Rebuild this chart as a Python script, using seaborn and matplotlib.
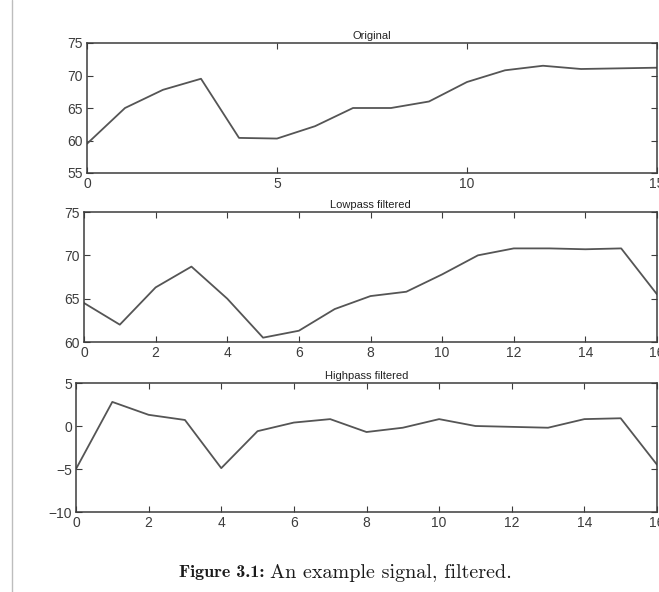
import numpy as np
import pandas as pd
import matplotlib.pyplot as plt
from matplotlib.lines import Line2D
import seaborn as sns

# --- data ---
t_orig = list(range(16))
original = [59.5, 65.0, 67.8, 69.5, 60.4, 60.3, 62.2, 65.0, 65.0, 66.0,
            69.0, 70.8, 71.5, 71.0, 71.1, 71.2]

t_filt = list(range(17))
lowpass = [64.5, 62.0, 66.3, 68.7, 65.0, 60.5, 61.3, 63.8, 65.3, 65.8,
           67.8, 70.0, 70.8, 70.8, 70.7, 70.8, 65.5]
highpass = [-5.0, 2.8, 1.3, 0.7, -4.9, -0.6, 0.4, 0.8, -0.7, -0.2,
            0.8, 0.0, -0.1, -0.2, 0.8, 0.9, -4.5]

titles = ["Original", "Lowpass filtered", "Highpass filtered"]
caption_bold = "Figure 3.1:"
caption_text = "An example signal, filtered."

sns.set_style("ticks")
plt.rcParams["font.family"] = ["Liberation Sans", "DejaVu Sans"]
ink = "#3c3c3c"

fig = plt.figure(figsize=(6.59, 5.92), dpi=100)

# axes boxes (left, bottom, width, height) in figure fractions
boxes = [
    (87 / 659, 1 - 173 / 592, 570 / 659, 130 / 592),
    (84 / 659, 1 - 342 / 592, 573 / 659, 130 / 592),
    (76 / 659, 1 - 512 / 592, 581 / 659, 129 / 592),
]
panels = [
    (t_orig, original, (0, 15), (55, 75), [0, 5, 10, 15], [55, 60, 65, 70, 75]),
    (t_filt, lowpass, (0, 16), (60, 75), list(range(0, 17, 2)), [60, 65, 70, 75]),
    (t_filt, highpass, (0, 16), (-10, 5), list(range(0, 17, 2)), [-10, -5, 0, 5]),
]

for box, (x, y, xl, yl, xt, yt), title in zip(boxes, panels, titles):
    ax = fig.add_axes(box)
    df = pd.DataFrame({"t": x, "v": y})
    sns.lineplot(data=df, x="t", y="v", ax=ax, color="#555555", linewidth=1.3)
    ax.set_xlim(*xl)
    ax.set_ylim(*yl)
    ax.set_xticks(xt)
    ax.set_yticks(yt)
    ax.set_xlabel("")
    ax.set_ylabel("")
    ax.tick_params(direction="in", top=True, right=True, length=4,
                   labelsize=10, colors=ink, pad=3)
    ax.set_yticklabels([str(v).replace("-", "\u2212") for v in yt])
    for s in ax.spines.values():
        s.set_visible(True)
        s.set_color(ink)
        s.set_linewidth(1.1)
    ax.set_title(title, fontsize=8, color="#222222", pad=3)

# page margin line from the scan
fig.add_artist(Line2D([12 / 659, 12 / 659], [0.0, 1.0], color="#bdbdbd", lw=1.0))

fig.text(179 / 659, 1 - 573 / 592, caption_bold, family="cmb10", fontsize=13,
         color="#1a1a1a", va="center", ha="left")
fig.text(270 / 659, 1 - 573 / 592, caption_text, family="cmr10", fontsize=14.5,
         color="#1a1a1a", va="center", ha="left")

fig.savefig("out.png", dpi=100, facecolor="white")
